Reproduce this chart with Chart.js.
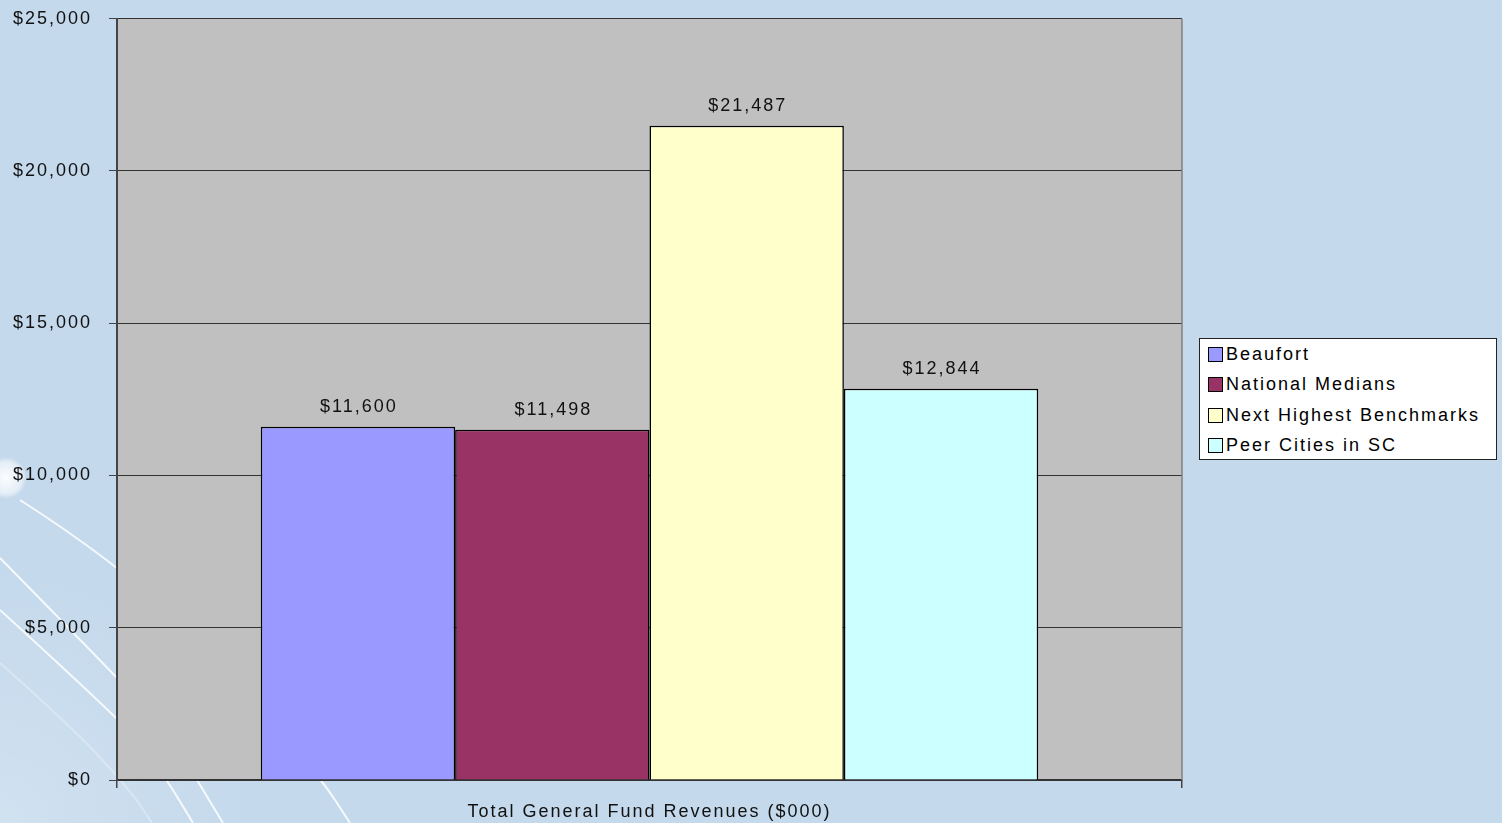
<!DOCTYPE html>
<html>
<head>
<meta charset="utf-8">
<script src="https://cdn.jsdelivr.net/npm/chart.js@4"></script>
<style>
  html, body { margin: 0; padding: 0; background: #C4D9EC; }
  #wrap { position: relative; width: 1502px; height: 823px; }
  #legend {
    position: absolute; left: 1199px; top: 338px; width: 296px; height: 120px;
    background: #fff; border: 1px solid #222;
    font-family: "Liberation Sans", Arial, sans-serif; font-size: 18px; letter-spacing: 2px; color: #000;
  }
  #legend .item { position: absolute; left: 8px; height: 20px; line-height: 20px; white-space: nowrap; }
  #legend .sw { display: inline-block; width: 13px; height: 13px; border: 1px solid #000; vertical-align: -2px; margin-right: 3px; }
</style>
</head>
<body>
<div id="wrap">
  <canvas id="myChart" width="1502" height="823"></canvas>
  <div id="legend"></div>
</div>
<script>
const categories = ['Total General Fund Revenues ($000)'];
const seriesNames = ['Beaufort', 'National Medians', 'Next Highest Benchmarks', 'Peer Cities in SC'];
const seriesValues = [[11600], [11498], [21487], [12844]];
const seriesColors = ['#9999FF', '#993366', '#FFFFCC', '#CCFFFF'];
const yTicks = [0, 5000, 10000, 15000, 20000, 25000];

const fmt = v => '$' + v.toLocaleString('en-US');
const FONT = '"Liberation Sans", Arial, sans-serif';

// legend (html, boxed like the original)
const legendEl = document.getElementById('legend');
seriesNames.forEach((name, i) => {
  const row = document.createElement('div');
  row.className = 'item';
  row.style.top = (5 + i * 30.3) + 'px';
  row.innerHTML = '<span class="sw" style="background:' + seriesColors[i] + '"></span>' + name;
  legendEl.appendChild(row);
});

const spacing = {
  id: 'spacing',
  beforeUpdate(chart) { chart.ctx.letterSpacing = '2px'; },
  beforeLayout(chart) { chart.ctx.letterSpacing = '2px'; },
  beforeDraw(chart) { chart.ctx.letterSpacing = '2px'; }
};

// smooth path through points
function swirl(ctx, pts) {
  ctx.beginPath();
  ctx.moveTo(pts[0][0], pts[0][1]);
  for (let i = 1; i < pts.length - 1; i++) {
    const mx = (pts[i][0] + pts[i + 1][0]) / 2, my = (pts[i][1] + pts[i + 1][1]) / 2;
    ctx.quadraticCurveTo(pts[i][0], pts[i][1], mx, my);
  }
  const l = pts[pts.length - 1];
  ctx.lineTo(l[0], l[1]);
  ctx.stroke();
}

const backdrop = {
  id: 'backdrop',
  beforeDraw(chart) {
    const ctx = chart.ctx;
    const a = chart.chartArea;
    ctx.save();
    ctx.fillStyle = '#C4D9EC';
    ctx.fillRect(0, 0, chart.width, chart.height);
    const g = ctx.createRadialGradient(0, 823, 0, 0, 823, 260);
    g.addColorStop(0, 'rgba(255,255,255,0.22)');
    g.addColorStop(1, 'rgba(255,255,255,0)');
    ctx.fillStyle = g;
    ctx.fillRect(0, 500, 300, 323);
    ctx.strokeStyle = 'rgba(255,255,255,0.85)';
    ctx.lineWidth = 2;
    swirl(ctx, [[20, 500], [117, 562], [240, 680], [322, 780], [350, 823]]);
    swirl(ctx, [[0, 558], [117, 677], [170, 735], [197, 780], [223, 823]]);
    swirl(ctx, [[0, 610], [117, 717], [145, 750], [167, 780], [193, 823]]);
    ctx.strokeStyle = 'rgba(255,255,255,0.3)';
    swirl(ctx, [[0, 663], [70, 725], [130, 790], [152, 823]]);
    const rg = ctx.createRadialGradient(6, 478, 0, 6, 478, 21);
    rg.addColorStop(0, 'rgba(255,255,255,0.95)');
    rg.addColorStop(0.75, 'rgba(255,255,255,0.55)');
    rg.addColorStop(1, 'rgba(255,255,255,0)');
    ctx.fillStyle = rg;
    ctx.fillRect(0, 450, 40, 60);
    ctx.fillStyle = '#C0C0C0';
    ctx.fillRect(a.left, a.top, a.right - a.left, a.bottom - a.top);
    ctx.restore();
  },
  afterDraw(chart) {
    const ctx = chart.ctx;
    const a = chart.chartArea;
    ctx.save();
    ctx.strokeStyle = '#808080';
    ctx.lineWidth = 1.5;
    ctx.beginPath();
    ctx.moveTo(a.right, a.top);
    ctx.lineTo(a.right, a.bottom);
    ctx.stroke();
    ctx.restore();
  }
};

const valueLabels = {
  id: 'valueLabels',
  afterDatasetsDraw(chart) {
    const ctx = chart.ctx;
    ctx.save();
    ctx.letterSpacing = '2px';
    ctx.font = '18px ' + FONT;
    ctx.fillStyle = '#111';
    ctx.textAlign = 'center';
    ctx.textBaseline = 'middle';
    chart.data.datasets.forEach((ds, i) => {
      chart.getDatasetMeta(i).data.forEach((bar, j) => {
        ctx.fillText(fmt(ds.data[j]), bar.x + 1, bar.y - 20);
      });
    });
    ctx.restore();
  }
};

new Chart(document.getElementById('myChart'), {
  type: 'bar',
  data: {
    labels: categories,
    datasets: seriesNames.map((name, i) => ({
      label: name,
      data: seriesValues[i],
      backgroundColor: seriesColors[i],
      borderColor: '#000',
      borderWidth: 1.5,
      categoryPercentage: 0.73,
      barPercentage: 1
    }))
  },
  options: {
    responsive: false,
    animation: false,
    devicePixelRatio: 1,
    layout: { padding: { left: 0, right: 320, top: 18.7, bottom: 0 } },
    plugins: {
      legend: { display: false },
      tooltip: { enabled: false }
    },
    scales: {
      x: {
        offset: true,
        afterFit(axis) { axis.height = 43; },
        grid: { display: true, drawOnChartArea: false, tickLength: 8, color: '#444', lineWidth: 1.5, offset: true },
        border: { color: '#333', width: 2 },
        ticks: { color: '#111', padding: 13, font: { family: FONT, size: 18 } }
      },
      y: {
        min: 0,
        max: 25000,
        afterFit(axis) { axis.width = 117; axis.paddingTop = 0; axis.paddingBottom = 0; },
        afterBuildTicks(axis) { axis.ticks = yTicks.map(v => ({ value: v })); },
        grid: { color: '#333', lineWidth: 1, tickLength: 8, tickColor: '#444' },
        border: { color: '#444', width: 2 },
        ticks: {
          color: '#111', padding: 17,
          font: { family: FONT, size: 18 },
          callback: v => fmt(v)
        }
      }
    }
  },
  plugins: [spacing, backdrop, valueLabels]
});
</script>
</body>
</html>
